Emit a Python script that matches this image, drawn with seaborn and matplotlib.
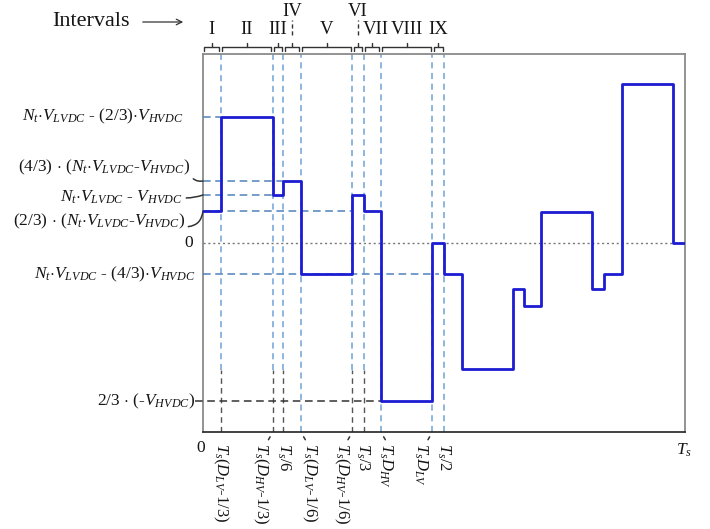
import numpy as np
import pandas as pd
import matplotlib
matplotlib.use("Agg")
import matplotlib.pyplot as plt
import seaborn as sns

# ---------------- data ----------------
# step edges (fraction of switching period Ts) and level of each segment
t_edges = [0.0, 0.0367, 0.145, 0.1667, 0.203, 0.310, 0.3333, 0.369, 0.476, 0.5,
           0.5367, 0.6425, 0.666, 0.702, 0.8077, 0.832, 0.8687, 0.9757, 1.0]
seg_values = [0.323, 1.266, 0.483, 0.623, -0.307, 0.483, 0.323, -1.577, 0.0,
              -0.307, -1.26, -0.46, -0.624, 0.316, -0.46, -0.307, 1.59, 0.0]

# marked instants on time axis
tick_times = [0.0367, 0.145, 0.1667, 0.203, 0.310, 0.3333, 0.369, 0.476, 0.5]
tick_labels = [r"$T_s(D_{LV}$-$1/3)$", r"$T_s(D_{HV}$-$1/3)$", r"$T_s/6$",
               r"$T_s(D_{LV}$-$1/6)$", r"$T_s(D_{HV}$-$1/6)$", r"$T_s/3$",
               r"$T_sD_{HV}$", r"$T_sD_{LV}$", r"$T_s/2$"]
interval_names = ["I", "II", "III", "IV", "V", "VI", "VII", "VIII", "IX"]

# voltage levels on vertical axis
level_values = [1.266, 0.623, 0.483, 0.323, 0.0, -0.307, -1.577]
level_labels = [r"$N_t{\cdot}V_{LVDC}$ - (2/3)$\cdot V_{HVDC}$",
                r"(4/3) $\cdot$ ($N_t{\cdot}V_{LVDC}$-$V_{HVDC}$)",
                r"$N_t{\cdot}V_{LVDC}$ - $V_{HVDC}$",
                r"(2/3) $\cdot$ ($N_t{\cdot}V_{LVDC}$-$V_{HVDC}$)",
                "0",
                r"$N_t{\cdot}V_{LVDC}$ - (4/3)$\cdot V_{HVDC}$",
                r"2/3 $\cdot$ (-$V_{HVDC}$)"]

# ---------------- style ----------------
sns.set_style("white")
plt.rcParams["font.family"] = ["Liberation Serif", "DejaVu Serif"]
plt.rcParams["mathtext.fontset"] = "custom"
plt.rcParams["mathtext.rm"] = "Liberation Serif"
plt.rcParams["mathtext.it"] = "Liberation Serif:italic"
plt.rcParams["mathtext.bf"] = "Liberation Serif:bold"

WAVE = "#1c1cd2"
VBLUE = "#6fa3d6"
HBLUE = "#4f81bd"
TXT = "#151515"
FS_LEFT = 12.5
FS_BOT = 12
FS_NUM = 13.5

fig = plt.figure(figsize=(7.10, 5.29), dpi=100)
ax = fig.add_axes([203 / 710, 1 - 432 / 529, 482 / 710, 378 / 529])
ax.set_xlim(0, 1)
ax.set_ylim(-1.887, 1.893)

# ---------------- waveform ----------------
df = pd.DataFrame({"t": t_edges, "v": seg_values + [seg_values[-1]]})
sns.lineplot(data=df, x="t", y="v", drawstyle="steps-post", color=WAVE, lw=2.0,
             estimator=None, sort=False, ax=ax, zorder=5)
ax.set_xlabel("")
ax.set_ylabel("")

# ---------------- guide lines ----------------
black_below = -1.27
dark_lower = {0, 1, 2, 4, 5}
for i, t in enumerate(tick_times):
    if i in dark_lower:
        ax.plot([t, t], [black_below, 1.893], color=VBLUE, lw=1.1, ls=(0, (4, 3)), zorder=2)
        ax.plot([t, t], [-1.887, black_below], color="#555555", lw=1.0, ls=(0, (4, 3)), zorder=2)
    else:
        ax.plot([t, t], [-1.887, 1.893], color=VBLUE, lw=1.1, ls=(0, (4, 3)), zorder=2)

A, B, C, D, Z, E, F = level_values
guides = [(A, 0, tick_times[0], HBLUE), (B, 0, tick_times[2], HBLUE),
          (C, 0, tick_times[1], HBLUE), (D, 0, tick_times[4], HBLUE),
          (E, 0, 0.49, HBLUE), (F, -0.016, tick_times[6], "#333333")]
for y, x0, x1, c in guides:
    ax.plot([x0, x1], [y, y], color=c, lw=1.1, ls=(0, (5, 3)), zorder=3, clip_on=False)
ax.plot([0, 1], [Z, Z], color="#777777", lw=1.0, ls=(0, (1.5, 2)), zorder=3)

# ---------------- spines / ticks ----------------
for s in ["top", "right", "left"]:
    ax.spines[s].set_color("#8a8a8a")
    ax.spines[s].set_linewidth(1.3)
ax.spines["bottom"].set_color("#222222")
ax.spines["bottom"].set_linewidth(1.2)
ax.set_yticks(level_values)
ax.set_yticklabels([])
ax.tick_params(axis="y", length=6, width=1.2, color="#222222", direction="out")
ax.set_xticks([0.0] + tick_times + [1.0])
ax.set_xticklabels([])
ax.tick_params(axis="x", length=6, width=1.2, color="#222222", direction="out")

ytr = ax.get_yaxis_transform()
xtr = ax.get_xaxis_transform()

# ---------------- left labels ----------------
label_offsets = [(-20, 0), (-13, 14), (-20, -2), (-18, -10), (-10, 0), (-8, 0), (-8, 0)]
leaders = {1: "arc3,rad=0.35", 2: "arc3,rad=0.1", 3: "arc3,rad=0.45"}
relposes = {1: (1.0, 0.1), 2: (1.0, 0.45), 3: (1.0, 0.2)}
for i, (lv, lab) in enumerate(zip(level_values, level_labels)):
    dx, dy = label_offsets[i]
    kw = {}
    if i in leaders:
        kw["arrowprops"] = dict(arrowstyle="-", color="#333333", lw=1.1,
                                connectionstyle=leaders[i], shrinkA=0, shrinkB=0,
                                relpos=relposes[i])
    ax.annotate(lab, xy=(0, lv), xycoords=ytr, xytext=(dx, dy),
                textcoords="offset pixels", ha="right", va="center",
                fontsize=FS_LEFT, color=TXT, annotation_clip=False, **kw)

# ---------------- bottom labels ----------------
bottom_dx = [0, -12, 0, 9, -11, -1, 5, -12, 0]
for t, lab, dx in zip(tick_times, tick_labels, bottom_dx):
    kw = {}
    if abs(dx) > 3:
        kw["arrowprops"] = dict(arrowstyle="-", color="#333333", lw=1.1,
                                shrinkA=0, shrinkB=4, relpos=(0.5, 1.0),
                                connectionstyle="angle,angleA=90,angleB=%d,rad=0" % (60 if dx < 0 else 120))
    ax.annotate(lab, xy=(t, 0), xycoords=xtr, xytext=(dx, -11),
                textcoords="offset pixels", ha="center", va="top",
                rotation=-90, fontsize=FS_BOT, color=TXT,
                annotation_clip=False, **kw)
ax.annotate("0", xy=(0, 0), xycoords=xtr, xytext=(-2, -8), textcoords="offset pixels",
            ha="center", va="top", fontsize=FS_LEFT, color=TXT, annotation_clip=False)
ax.annotate(r"$T_s$", xy=(1, 0), xycoords=xtr, xytext=(-1, -10), textcoords="offset pixels",
            ha="center", va="top", fontsize=FS_LEFT, color=TXT, annotation_clip=False)

# ---------------- interval braces and names ----------------
edges = [0.0] + tick_times
h = 378.0
y_lo, y_mid, y_hi = 1 + 3 / h, 1 + 7 / h, 1 + 11 / h
e = 0.003
for k in range(len(edges) - 1):
    a, b = edges[k], edges[k + 1]
    m = (a + b) / 2
    ax.plot([a + e, a + e, b - e, b - e], [y_lo, y_mid, y_mid, y_lo], color="#333333",
            lw=1.0, transform=xtr, clip_on=False)
    ax.plot([m, m], [y_mid, y_hi], color="#333333", lw=1.0, transform=xtr, clip_on=False)
    name = interval_names[k]
    if name in ("IV", "VI"):
        ax.text(m, 1 + 42 / h, name, transform=xtr, ha="center", va="center",
                fontsize=FS_NUM, color=TXT)
        ax.plot([m, m], [1 + 19 / h, 1 + 34 / h], color="#333333", lw=1.0,
                ls=(0, (3, 2)), transform=xtr, clip_on=False)
    else:
        dxn = 0.008 if name == "VII" else 0.0
        ax.text(m + dxn, 1 + 25 / h, name, transform=xtr, ha="center", va="center",
                fontsize=FS_NUM, color=TXT)

fig.text(52 / 710, 1 - 21 / 529, "Intervals", ha="left", va="center", fontsize=16,
         color=TXT)
fig.add_artist(matplotlib.patches.FancyArrowPatch((140 / 710, 1 - 22 / 529), (186 / 710, 1 - 22 / 529),
               transform=fig.transFigure, arrowstyle="->,head_length=4,head_width=2",
               color="#333333", lw=0.9, mutation_scale=1))

fig.savefig("out.png", dpi=100)
